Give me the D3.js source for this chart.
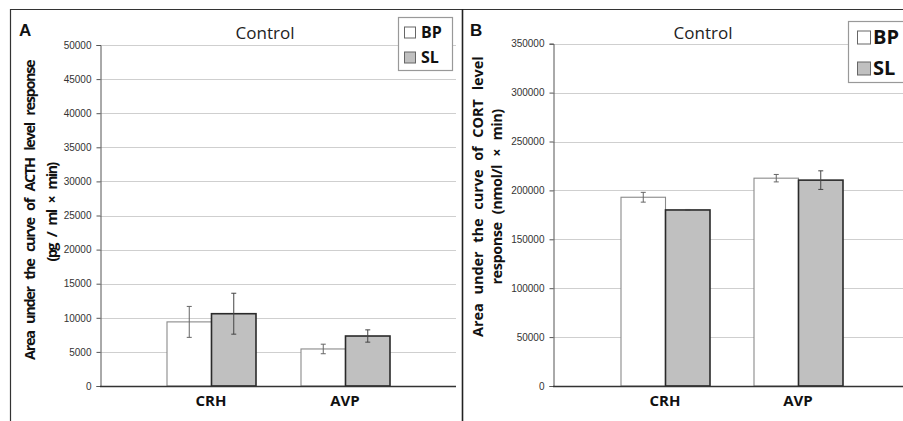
<!DOCTYPE html>
<html><head><meta charset="utf-8">
<script src="https://cdn.jsdelivr.net/npm/d3@7"></script>
<style>body{margin:0;background:#fff}svg{display:block}</style>
</head><body>
<svg id="c" width="903" height="421"></svg>
<script>
const categories = ["CRH", "AVP"];
const seriesNames = ["BP", "SL"];
const acthBP = [9400, 5430];
const acthSL = [10600, 7330];
const acthBPErr = [2270, 700];
const acthSLErr = [3000, 900];
const cortBP = [193000, 212500];
const cortSL = [180000, 210500];
const cortBPErr = [5000, 3800];
const cortSLErr = [500, 9500];
const ticksA = [0, 5000, 10000, 15000, 20000, 25000, 30000, 35000, 40000, 45000, 50000];
const ticksB = [0, 50000, 100000, 150000, 200000, 250000, 300000, 350000];

const svg = d3.select("#c");
const fills = {BP: "#ffffff", SL: "#c0c0c0"};
const strokes = {BP: "#8a8a8a", SL: "#2a2a2a"};

// frame
svg.append("line").attr("x1", 10).attr("x2", 903).attr("y1", 9.5).attr("y2", 9.5).attr("stroke", "#333").attr("stroke-width", 1.2);
svg.append("line").attr("x1", 10.5).attr("x2", 10.5).attr("y1", 9).attr("y2", 421).attr("stroke", "#333").attr("stroke-width", 1.2);
svg.append("line").attr("x1", 462.5).attr("x2", 462.5).attr("y1", 9).attr("y2", 421).attr("stroke", "#222").attr("stroke-width", 1.6);

function panel(o) {
  const g = svg.append("g");
  const y = d3.scaleLinear().domain([0, o.ticks[o.ticks.length - 1]]).range([386, o.yTop]);
  const x = d3.scaleBand().domain(categories).range(o.xRange);
  const xs = d3.scaleBand().domain(seriesNames).range([-o.barW, o.barW]);

  // grid
  g.append("g").selectAll("line").data(o.ticks.slice(1)).join("line")
    .attr("x1", o.axisX).attr("x2", o.gridEnd)
    .attr("y1", d => Math.round(y(d)) + 0.5).attr("y2", d => Math.round(y(d)) + 0.5)
    .attr("stroke", "#cfcfcf").attr("stroke-width", 1.2);

  // y axis
  const ya = g.append("g").attr("transform", `translate(${o.axisX + 0.5},0)`)
    .call(d3.axisLeft(y).tickValues(o.ticks).tickSize(4).tickPadding(5).tickFormat(d3.format("d")));
  ya.select(".domain").attr("stroke", "#555");
  ya.selectAll(".tick line").attr("stroke", "#555");
  ya.selectAll("text").attr("font-family", "Liberation Sans, Arial, sans-serif").attr("font-size", 10).attr("fill", "#333");

  // bars
  const vals = [o.bp, o.sl], errs = [o.bpErr, o.slErr];
  seriesNames.forEach((s, si) => {
    const gg = g.append("g");
    gg.selectAll("rect").data(categories).join("rect")
      .attr("x", c => x(c) + x.bandwidth() / 2 + xs(s) + 0.5)
      .attr("y", (c, i) => y(vals[si][i]))
      .attr("width", xs.bandwidth())
      .attr("height", (c, i) => 386 - y(vals[si][i]))
      .attr("fill", fills[s]).attr("stroke", strokes[s]).attr("stroke-width", si ? 1.6 : 1.1);
    categories.forEach((c, i) => {
      const cx = x(c) + x.bandwidth() / 2 + xs(s) + xs.bandwidth() / 2 + 0.5;
      const y1 = y(vals[si][i] + errs[si][i]), y2 = y(vals[si][i] - errs[si][i]);
      const col = si ? "#444" : "#666";
      gg.append("line").attr("x1", cx).attr("x2", cx).attr("y1", y1).attr("y2", y2).attr("stroke", col).attr("stroke-width", 1);
      [y1, y2].forEach(yy => gg.append("line").attr("x1", cx - 2.5).attr("x2", cx + 2.5).attr("y1", yy).attr("y2", yy).attr("stroke", col).attr("stroke-width", 1));
    });
  });

  // x axis line
  g.append("line").attr("x1", o.axisX).attr("x2", o.gridEnd).attr("y1", 386.5).attr("y2", 386.5).attr("stroke", "#333").attr("stroke-width", 1.3);

  // category labels
  g.append("g").selectAll("text").data(categories).join("text")
    .attr("x", c => x(c) + x.bandwidth() / 2)
    .attr("y", 406)
    .attr("text-anchor", "middle")
    .attr("font-family", "Open Sans, sans-serif").attr("font-weight", "bold").attr("font-size", 15)
    .attr("fill", "#111").text(c => c);

  // title
  g.append("text").attr("x", o.titleX).attr("y", 39).attr("text-anchor", "middle")
    .attr("font-family", "Open Sans, sans-serif").attr("font-size", 17).attr("fill", "#222").text("Control");

  // panel letter
  g.append("text").attr("x", o.letterX).attr("y", 36)
    .attr("font-family", "Liberation Sans, Arial, sans-serif").attr("font-weight", "bold").attr("font-size", 17)
    .attr("fill", "#111").text(o.letter);

  // y label
  o.ylab.forEach(l => {
    g.append("text").attr("transform", `translate(${l.x},${l.cy}) rotate(-90)`)
      .attr("text-anchor", "middle").attr("dy", "0.35em")
      .attr("font-family", "Open Sans, sans-serif").attr("font-weight", "bold").attr("font-size", 14.5)
      .attr("letter-spacing", -0.7).attr("word-spacing", 5)
      .attr("fill", "#111").attr("textLength", l.len).attr("lengthAdjust", "spacing").text(l.t);
  });

  // legend
  const L = o.legend;
  g.append("rect").attr("x", L.x + 0.5).attr("y", L.y + 0.5).attr("width", L.w).attr("height", L.h)
    .attr("fill", "#fff").attr("stroke", "#999").attr("stroke-width", 1.2);
  seriesNames.forEach((s, i) => {
    g.append("rect").attr("x", L.sx + 0.5).attr("y", L.rows[i] - L.sq / 2 + 0.5).attr("width", L.sq).attr("height", L.sq)
      .attr("fill", fills[s]).attr("stroke", "#666").attr("stroke-width", 1);
    g.append("text").attr("x", L.tx).attr("y", L.rows[i]).attr("dy", "0.36em")
      .attr("font-family", "Open Sans, sans-serif").attr("font-weight", "bold").attr("font-size", L.fs)
      .attr("fill", "#111").text(s);
  });
}

panel({
  ticks: ticksA, yTop: 45, axisX: 100, gridEnd: 456, xRange: [144, 412], barW: 44.5,
  bp: acthBP, sl: acthSL, bpErr: acthBPErr, slErr: acthSLErr,
  titleX: 265, letter: "A", letterX: 19,
  ylab: [
    {t: "Area under the curve of ACTH level response", x: 30, cy: 210, len: 300},
    {t: "(pg / ml × min)", x: 52, cy: 212, len: 99}
  ],
  legend: {x: 398, y: 17, w: 54, h: 53, sx: 404, sq: 11, tx: 421, rows: [32, 57], fs: 16}
});

panel({
  ticks: ticksB, yTop: 43.7, axisX: 553, gridEnd: 903, xRange: [598.5, 864.5], barW: 44.5,
  bp: cortBP, sl: cortSL, bpErr: cortBPErr, slErr: cortSLErr,
  titleX: 703, letter: "B", letterX: 470,
  ylab: [
    {t: "Area under the curve of CORT level", x: 478, cy: 197, len: 280},
    {t: "response (nmol/l × min)", x: 497, cy: 197, len: 175}
  ],
  legend: {x: 848, y: 21, w: 60, h: 61, sx: 857, sq: 13, tx: 873, rows: [37, 68], fs: 20}
});
</script>
</body></html>
